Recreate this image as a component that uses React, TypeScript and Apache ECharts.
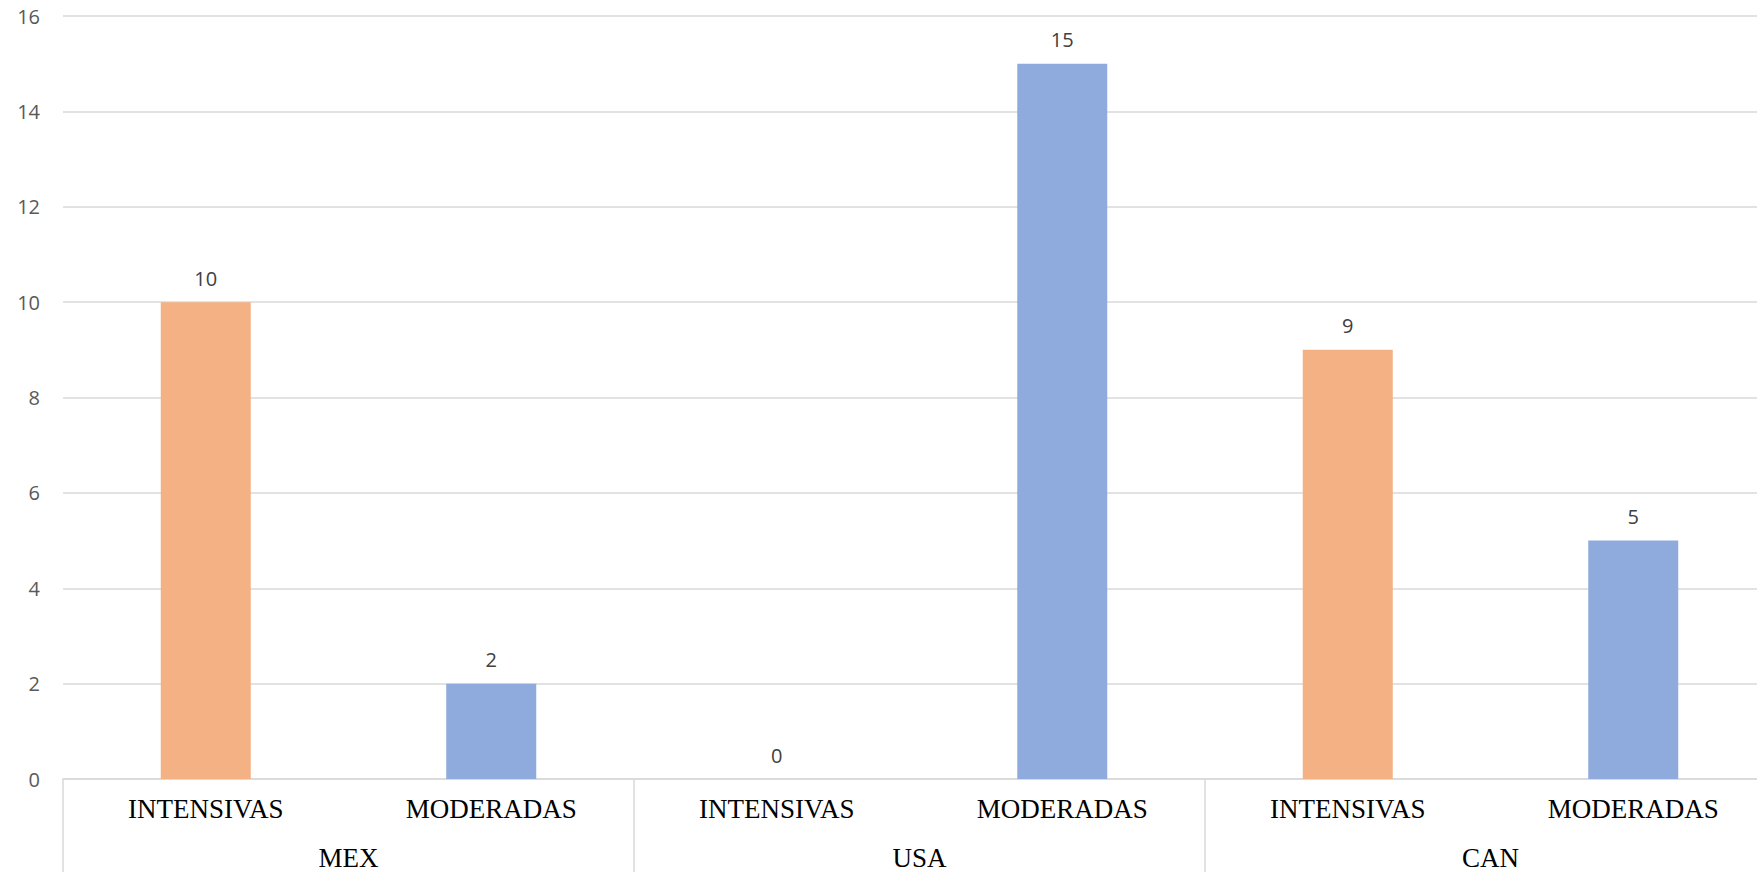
import React, { useEffect, useRef } from "react";
import * as echarts from "echarts";

const groups = ["MEX", "USA", "CAN"];
const types = ["INTENSIVAS", "MODERADAS"];
const intensivas = [10, 0, 9];
const moderadas = [2, 15, 5];
const yTicks = { min: 0, max: 16, interval: 2 };

export default function App() {
  const ref = useRef<HTMLDivElement>(null);
  useEffect(() => {
    if (!ref.current) return;
    const chart = echarts.init(ref.current, null, { renderer: "svg" });
    const categories: string[] = [];
    const orange: any[] = [];
    const blue: any[] = [];
    groups.forEach((g, i) => {
      categories.push(types[0]);
      orange.push(intensivas[i]);
      blue.push("-");
      categories.push(types[1]);
      orange.push("-");
      blue.push(moderadas[i]);
    });
    const labelStyle = {
      show: true,
      position: "top",
      distance: 14,
      color: "#404040",
      fontFamily: "Open Sans",
      fontSize: 20,
    };
    chart.setOption({
      animation: false,
      backgroundColor: "#ffffff",
      grid: { left: 63, top: 16, bottom: 93, right: 0 },
      xAxis: [
        {
          type: "category",
          data: categories,
          axisLine: { show: true, lineStyle: { color: "#d9d9d9", width: 1.5 } },
          axisTick: { show: false },
          axisLabel: {
            interval: 0,
            margin: 16,
            color: "#000000",
            fontFamily: "Liberation Serif",
            fontSize: 27,
          },
        },
        {
          type: "category",
          data: groups,
          position: "bottom",
          axisLine: { show: false },
          axisTick: {
            show: true,
            interval: 0,
            length: 100,
            lineStyle: { color: "#d9d9d9", width: 1.5 },
          },
          axisLabel: {
            interval: 0,
            margin: 65,
            color: "#000000",
            fontFamily: "Liberation Serif",
            fontSize: 27,
          },
        },
      ],
      yAxis: {
        type: "value",
        min: yTicks.min,
        max: yTicks.max,
        interval: yTicks.interval,
        axisLine: { show: false },
        axisTick: { show: false },
        splitLine: { lineStyle: { color: "#d9d9d9", width: 1.5 } },
        axisLabel: {
          margin: 23,
          color: "#595959",
          fontFamily: "Open Sans",
          fontSize: 20,
        },
      },
      series: [
        {
          type: "bar",
          name: "INTENSIVAS",
          stack: "s",
          barWidth: 90,
          data: orange,
          itemStyle: { color: "#F4B183" },
          label: labelStyle,
        },
        {
          type: "bar",
          name: "MODERADAS",
          stack: "s",
          barWidth: 90,
          data: blue,
          itemStyle: { color: "#8FAADC" },
          label: labelStyle,
        },
      ],
    });
    return () => chart.dispose();
  }, []);
  return (
    <div
      style={{
        position: "absolute",
        left: 0,
        top: 0,
        width: 1757,
        height: 872,
        overflow: "hidden",
        background: "#ffffff",
      }}
    >
      <div ref={ref} style={{ width: 1776, height: 872 }} />
    </div>
  );
}
